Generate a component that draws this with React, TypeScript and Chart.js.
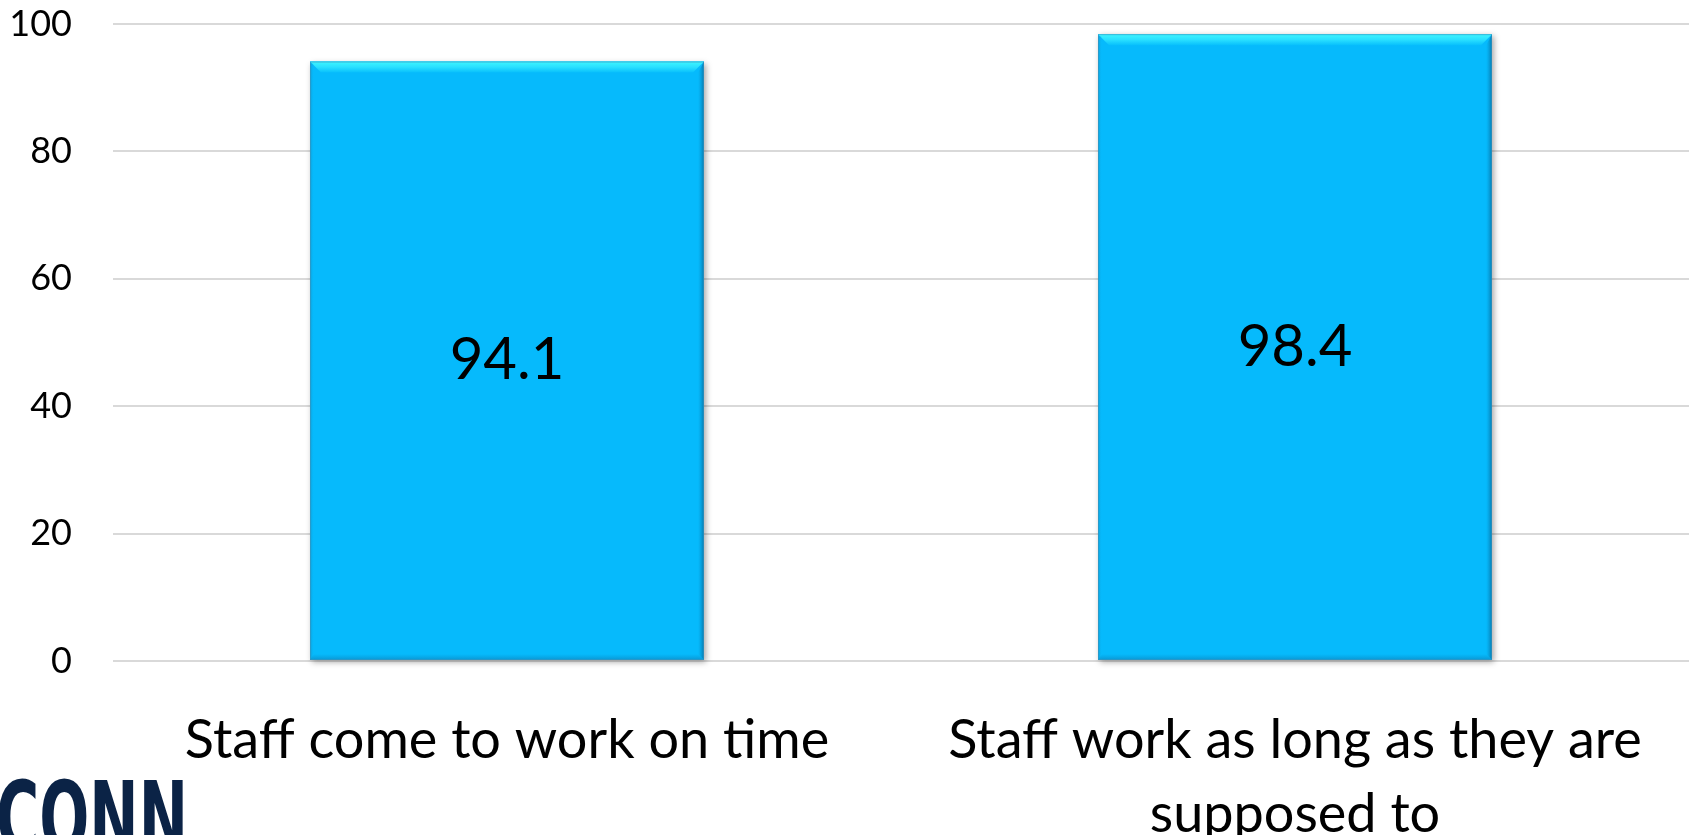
import React, { useEffect, useRef } from 'react';
import { Chart, registerables } from 'chart.js';

Chart.register(...registerables);

const categories: (string | string[])[] = [
  'Staff come to work on time',
  ['Staff work as long as they are', 'supposed to'],
];
const values = [94.1, 98.4];
const valueLabels = ['94.1', '98.4'];
const yMin = 0;
const yMax = 100;
const yStep = 20;
const logoText = 'CONN';

const FONT = 'Lato, "Open Sans", sans-serif';
const BAR_COLOR = '#06bafc';

const bevelPlugin = {
  id: 'bevel',
  beforeDatasetsDraw(chart: any) {
    const ctx = chart.ctx;
    const meta = chart.getDatasetMeta(0);
    meta.data.forEach((bar: any) => {
      const { x, y, base, width } = bar.getProps(['x', 'y', 'base', 'width'], true);
      const l = x - width / 2;
      ctx.save();
      ctx.shadowColor = 'rgba(0,0,0,0.35)';
      ctx.shadowBlur = 6;
      ctx.shadowOffsetX = 2;
      ctx.shadowOffsetY = 2;
      ctx.fillStyle = BAR_COLOR;
      ctx.fillRect(l, y, width, base - y);
      ctx.restore();
    });
  },
  afterDatasetsDraw(chart: any) {
    const ctx = chart.ctx;
    const meta = chart.getDatasetMeta(0);
    meta.data.forEach((bar: any, i: number) => {
      const { x, y, base, width } = bar.getProps(['x', 'y', 'base', 'width'], true);
      const l = x - width / 2;
      const r = x + width / 2;
      const b = 11;
      ctx.save();
      // top bevel
      let g = ctx.createLinearGradient(0, y, 0, y + b);
      g.addColorStop(0, '#3ff6ff');
      g.addColorStop(0.5, '#2ae0ff');
      g.addColorStop(1, '#08c0fc');
      ctx.fillStyle = g;
      ctx.beginPath();
      ctx.moveTo(l, y);
      ctx.lineTo(r, y);
      ctx.lineTo(r - b, y + b);
      ctx.lineTo(l + b, y + b);
      ctx.closePath();
      ctx.fill();
      // right bevel
      g = ctx.createLinearGradient(r - 6, 0, r, 0);
      g.addColorStop(0, 'rgba(6,150,210,0)');
      g.addColorStop(1, 'rgba(8,110,160,0.9)');
      ctx.fillStyle = g;
      ctx.beginPath();
      ctx.moveTo(r, y);
      ctx.lineTo(r, base);
      ctx.lineTo(r - 6, base - 6);
      ctx.lineTo(r - 6, y + b);
      ctx.closePath();
      ctx.fill();
      // bottom bevel
      g = ctx.createLinearGradient(0, base - 6, 0, base);
      g.addColorStop(0, 'rgba(6,150,210,0)');
      g.addColorStop(1, 'rgba(12,140,200,0.8)');
      ctx.fillStyle = g;
      ctx.beginPath();
      ctx.moveTo(l, base);
      ctx.lineTo(r, base);
      ctx.lineTo(r - 6, base - 6);
      ctx.lineTo(l + 4, base - 6);
      ctx.closePath();
      ctx.fill();
      // left edge
      g = ctx.createLinearGradient(l, 0, l + 4, 0);
      g.addColorStop(0, 'rgba(20,140,190,0.7)');
      g.addColorStop(1, 'rgba(6,186,252,0)');
      ctx.fillStyle = g;
      ctx.fillRect(l, y + 2, 4, base - y - 2);
      // outline
      ctx.strokeStyle = 'rgba(60,150,190,0.6)';
      ctx.lineWidth = 1;
      ctx.strokeRect(l + 0.5, y + 0.5, width - 1, base - y - 1);
      // value label
      ctx.fillStyle = '#000';
      ctx.font = `58px ${FONT}`;
      ctx.textAlign = 'center';
      ctx.textBaseline = 'middle';
      ctx.fillText(valueLabels[i], x, (y + base) / 2);
      ctx.restore();
    });
  },
  afterDraw(chart: any) {
    const ctx = chart.ctx;
    ctx.save();
    ctx.fillStyle = '#0b2346';
    ctx.font = `bold 100px "DejaVu Sans", sans-serif`;
    ctx.textBaseline = 'alphabetic';
    ctx.textAlign = 'left';
    const w = ctx.measureText(logoText).width;
    const targetW = 192;
    ctx.translate(-4, 780 + 73);
    ctx.scale(targetW / w, 1);
    ctx.fillText(logoText, 0, 0);
    ctx.restore();
  },
};

export default function App() {
  const ref = useRef<HTMLCanvasElement | null>(null);

  useEffect(() => {
    document.body.style.margin = '0';
    document.body.style.overflow = 'hidden';
    if (!ref.current) return;
    const chart = new Chart(ref.current, {
      type: 'bar',
      data: {
        labels: categories as any,
        datasets: [
          {
            data: values,
            backgroundColor: BAR_COLOR,
            borderWidth: 0,
            barPercentage: 0.5,
            categoryPercentage: 1,
          },
        ],
      },
      options: {
        animation: false,
        responsive: true,
        maintainAspectRatio: false,
        layout: { padding: { top: 0, right: 5, left: 0, bottom: 0 } },
        plugins: {
          legend: { display: false },
          tooltip: { enabled: false },
          title: { display: false },
        },
        scales: {
          x: {
            grid: { display: false },
            border: { display: false },
            ticks: {
              color: '#000',
              padding: 34,
              maxRotation: 0,
              autoSkip: false,
              font: { family: FONT, size: 54, lineHeight: 1.38 },
            },
            afterFit(scale: any) {
              scale.height = 174;
            },
          },
          y: {
            min: yMin,
            max: yMax,
            grid: { color: '#d9d9d9', lineWidth: 2, drawTicks: false },
            border: { display: false },
            ticks: {
              stepSize: yStep,
              color: '#000',
              padding: 41,
              font: { family: FONT, size: 36 },
            },
            afterFit(scale: any) {
              scale.width = 113;
              scale.paddingTop = 24;
              scale.paddingBottom = 0;
            },
          },
        },
      },
      plugins: [bevelPlugin],
    });
    return () => chart.destroy();
  }, []);

  return (
    <div style={{ width: 1694, height: 835, position: 'relative' }}>
      <canvas ref={ref} />
    </div>
  );
}
